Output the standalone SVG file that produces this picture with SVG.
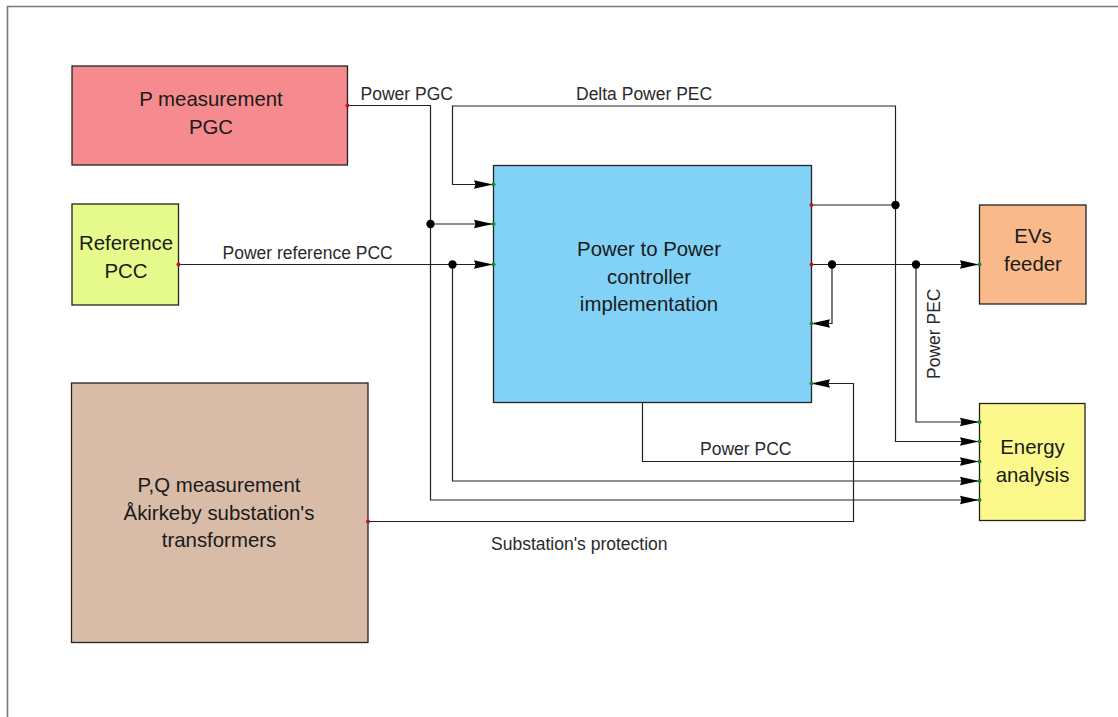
<svg xmlns="http://www.w3.org/2000/svg" width="1118" height="717" viewBox="0 0 1118 717">
  <style>
    .box { stroke: #222; stroke-width: 1.3; }
    .lbl { font-family: "Liberation Sans", Arial, sans-serif; font-size: 20.4px; fill: #1a1a1a; text-anchor: middle; }
    .wire { fill: none; stroke: #222; stroke-width: 1.2; }
    .arrow { fill: none; stroke: #222; stroke-width: 1.2; marker-end: url(#head); }
    .wl { font-family: "Liberation Sans", Arial, sans-serif; font-size: 17.5px; fill: #2a2a2a; }
    .dot { fill: #000; }
    .out { fill: #c0151a; }
    .in { fill: #1c8a2a; }
  </style>
  <defs>
    <!-- solid dart-shaped arrowhead, tip on the port -->
    <marker id="head" viewBox="-20 -6 21 12" refX="0" refY="0" markerWidth="21" markerHeight="12" markerUnits="userSpaceOnUse" orient="auto">
      <path d="M0,0 L-19,-4.2 L-17.5,0 L-19,4.2 Z" fill="#000"/>
    </marker>
  </defs>

  <rect x="0" y="0" width="1118" height="717" fill="#fff"/>
  <!-- sheet frame -->
  <path d="M7.5,717 V6.5 H1118" fill="none" stroke="#7a7a7a" stroke-width="1.6"/>

  <!-- connectors -->
  <g id="connectors">
    <!-- Power PGC -->
    <path class="arrow" d="M348,105.5 H430.5 V500 H979"/>
    <path class="arrow" d="M430.5,224 H493"/>
    <!-- Power reference PCC -->
    <path class="arrow" d="M178,264.5 H493"/>
    <path class="arrow" d="M452.5,264.5 V481 H979"/>
    <!-- Delta Power PEC -->
    <path class="wire" d="M811,205 H895.5"/>
    <path class="arrow" d="M895.5,205 V106 H452.5 V184.5 H493"/>
    <path class="arrow" d="M895.5,205 V441.5 H979"/>
    <!-- Power PEC -->
    <path class="arrow" d="M811,264.5 H979"/>
    <path class="arrow" d="M832,264.5 V323.5 H811"/>
    <path class="arrow" d="M916,264.5 V422 H979"/>
    <!-- Power PCC -->
    <path class="arrow" d="M642.5,403 V461.5 H979"/>
    <!-- Substation's protection -->
    <path class="arrow" d="M368,521.5 H853.5 V383.5 H811"/>

    <!-- junctions -->
    <circle class="dot" cx="430.5" cy="224" r="4.2"/>
    <circle class="dot" cx="452.5" cy="264.5" r="4.2"/>
    <circle class="dot" cx="895.5" cy="205" r="4.2"/>
    <circle class="dot" cx="832" cy="264.5" r="4.2"/>
    <circle class="dot" cx="916" cy="264.5" r="4.2"/>

    <!-- wire labels -->
    <text class="wl" x="360.5" y="100">Power PGC</text>
    <text class="wl" x="576" y="100">Delta Power PEC</text>
    <text class="wl" x="222.5" y="258.5">Power reference PCC</text>
    <text class="wl" x="700" y="455">Power PCC</text>
    <text class="wl" x="491" y="549.5">Substation's protection</text>
    <text class="wl" transform="translate(940,379) rotate(-90)">Power PEC</text>
  </g>

  <g id="p-measurement">
    <rect class="box" x="72" y="66" width="275.5" height="99" fill="#f58b8f"/>
    <text class="lbl" x="211" y="106">P measurement</text>
    <text class="lbl" x="211" y="133.5">PGC</text>
    <circle class="out" cx="347.5" cy="105.5" r="2"/>
  </g>

  <g id="reference-pcc">
    <rect class="box" x="72" y="204" width="106.5" height="101" fill="#e6fb8b"/>
    <text class="lbl" x="126" y="249.5">Reference</text>
    <text class="lbl" x="126" y="278">PCC</text>
    <circle class="out" cx="178.5" cy="264.5" r="2"/>
  </g>

  <g id="pq-measurement">
    <rect class="box" x="71.5" y="383" width="296.5" height="259.5" fill="#d9bca8"/>
    <text class="lbl" x="219" y="491.5">P,Q measurement</text>
    <text class="lbl" x="219" y="520">Åkirkeby substation's</text>
    <text class="lbl" x="219" y="547">transformers</text>
    <circle class="out" cx="368" cy="521.5" r="2"/>
  </g>

  <g id="controller">
    <rect class="box" x="493.5" y="165.5" width="318" height="237" fill="#81d2f6"/>
    <text class="lbl" x="649" y="256">Power to Power</text>
    <text class="lbl" x="649" y="283.5">controller</text>
    <text class="lbl" x="649" y="311">implementation</text>
    <circle class="in" cx="493.5" cy="184.5" r="2"/>
    <circle class="in" cx="493.5" cy="224" r="2"/>
    <circle class="in" cx="493.5" cy="264.5" r="2"/>
    <circle class="out" cx="811.5" cy="205" r="2"/>
    <circle class="out" cx="811.5" cy="264.5" r="2"/>
    <circle class="in" cx="811.5" cy="323.5" r="2"/>
    <circle class="in" cx="811.5" cy="383.5" r="2"/>
  </g>

  <g id="evs-feeder">
    <rect class="box" x="979.5" y="205" width="106.5" height="99" fill="#f9b98b"/>
    <text class="lbl" x="1033" y="243">EVs</text>
    <text class="lbl" x="1033" y="271">feeder</text>
    <circle class="in" cx="979.5" cy="264.5" r="2"/>
  </g>

  <g id="energy-analysis">
    <rect class="box" x="979.5" y="403.5" width="105.5" height="117" fill="#fbf98b"/>
    <text class="lbl" x="1032.5" y="453.5">Energy</text>
    <text class="lbl" x="1032.5" y="481.5">analysis</text>
    <circle class="in" cx="979.5" cy="422" r="2"/>
    <circle class="in" cx="979.5" cy="441.5" r="2"/>
    <circle class="in" cx="979.5" cy="461.5" r="2"/>
    <circle class="in" cx="979.5" cy="481" r="2"/>
    <circle class="in" cx="979.5" cy="500" r="2"/>
  </g>
</svg>
